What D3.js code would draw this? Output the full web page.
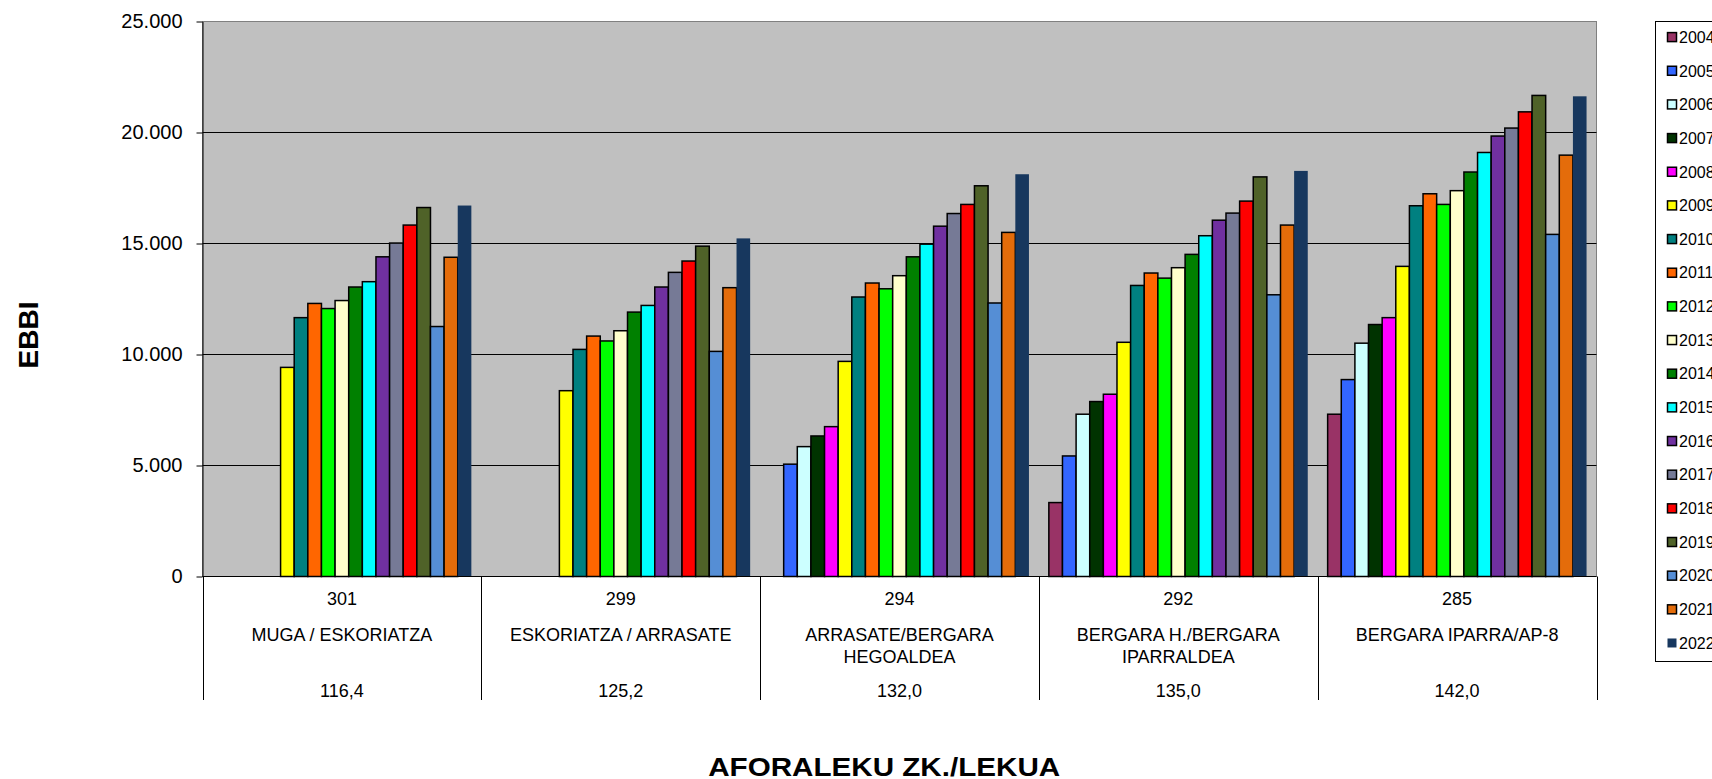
<!DOCTYPE html>
<html>
<head>
<meta charset="utf-8">
<script src="https://cdn.jsdelivr.net/npm/d3@7"></script>
<style>
  html, body { margin: 0; padding: 0; background: #ffffff; }
  svg { display: block; font-family: "Liberation Sans", Arial, sans-serif; }
</style>
</head>
<body>
<svg id="chart" width="1712" height="779"></svg>
<script>
// ---------------- DATA ----------------
const categories = ["301", "299", "294", "292", "285"];
const locations = [
  ["MUGA / ESKORIATZA"],
  ["ESKORIATZA / ARRASATE"],
  ["ARRASATE/BERGARA", "HEGOALDEA"],
  ["BERGARA H./BERGARA", "IPARRALDEA"],
  ["BERGARA IPARRA/AP-8"]
];
const kilometres = ["116,4", "125,2", "132,0", "135,0", "142,0"];
const years = ["2004","2005","2006","2007","2008","2009","2010","2011","2012","2013",
               "2014","2015","2016","2017","2018","2019","2020","2021","2022"];
// one row per year, one value per category (301, 299, 294, 292, 285)
const values = [
  [null,  null,  null,  3330,  7310],   // 2004
  [null,  null,  5060,  5430,  8870],   // 2005
  [null,  null,  5850,  7310, 10510],   // 2006
  [null,  null,  6330,  7880, 11350],   // 2007
  [null,  null,  6750,  8210, 11660],   // 2008
  [9420,  8370,  9690, 10550, 13970],   // 2009
  [11660, 10230, 12590, 13110, 16700],  // 2010
  [12300, 10830, 13220, 13670, 17240],  // 2011
  [12070, 10610, 12960, 13440, 16760],  // 2012
  [12430, 11070, 13550, 13910, 17380],  // 2013
  [13040, 11910, 14400, 14510, 18220],  // 2014
  [13280, 12210, 14970, 15350, 19100],  // 2015
  [14400, 13040, 15780, 16050, 19840],  // 2016
  [15020, 13700, 16350, 16370, 20200],  // 2017
  [15830, 14210, 16760, 16910, 20930],  // 2018
  [16620, 14880, 17600, 18000, 21670],  // 2019
  [11260, 10140, 12320, 12690, 15410],  // 2020
  [14380, 13010, 15500, 15830, 18980],  // 2021
  [16710, 15230, 18120, 18270, 21630]   // 2022
];
const colors = ["#993366","#3366FF","#CCFFFF","#003300","#FF00FF","#FFFF00","#008080","#FF6600",
                "#00FF00","#FFFFCC","#008000","#00FFFF","#7030A0","#767A96","#FF0000","#4F6228",
                "#558ED5","#E46C0A","#17375E"];
const yTicks = [0, 5000, 10000, 15000, 20000, 25000];
const yTitle = "EBBI";
const xTitle = "AFORALEKU ZK./LEKUA";

// ---------------- LAYOUT ----------------
const svg = d3.select("#chart");
const plot = { left: 202.5, right: 1596.5, top: 21.5, bottom: 576.5 };
const tableBottom = 700;

const y = d3.scaleLinear().domain([0, 25000]).range([plot.bottom, plot.top]);
const x0 = d3.scaleBand().domain(categories).range([plot.left, plot.right]).padding(0);
const x1 = d3.scaleBand().domain(years).range([0, x0.bandwidth()]).paddingInner(0).paddingOuter(0.73);
const color = d3.scaleOrdinal().domain(years).range(colors);

// plot background
svg.append("rect")
  .attr("x", plot.left).attr("y", plot.top)
  .attr("width", plot.right - plot.left).attr("height", plot.bottom - plot.top)
  .attr("fill", "#C0C0C0").attr("stroke", "#808080").attr("stroke-width", 1);

// gridlines
svg.append("g").selectAll("line")
  .data(yTicks.filter(d => d > 0 && d < 25000))
  .join("line")
  .attr("x1", plot.left).attr("x2", plot.right)
  .attr("y1", d => y(d)).attr("y2", d => y(d))
  .attr("stroke", "#000").attr("stroke-width", 1);

// bars
const groups = svg.append("g").selectAll("g")
  .data(categories)
  .join("g")
  .attr("transform", c => `translate(${x0(c)},0)`);

groups.selectAll("rect")
  .data((c, ci) => years.map((yr, yi) => ({ year: yr, value: values[yi][ci] })).filter(d => d.value != null))
  .join("rect")
  .attr("x", d => x1(d.year))
  .attr("y", d => y(d.value))
  .attr("width", x1.bandwidth())
  .attr("height", d => y(0) - y(d.value))
  .attr("fill", d => color(d.year))
  .attr("stroke", d => d.year === "2022" ? "none" : "#000")
  .attr("stroke-width", 1.5);

// y axis
const yAxis = d3.axisLeft(y)
  .tickValues(yTicks)
  .tickSizeInner(6).tickSizeOuter(0).tickPadding(14)
  .tickFormat(d => d3.format(",")(d).replace(/,/g, "."));
const gy = svg.append("g").attr("transform", `translate(${plot.left},0)`).call(yAxis);
gy.select(".domain").attr("stroke", "#000").attr("stroke-width", 1);
gy.selectAll(".tick line").attr("stroke", "#000");
gy.selectAll(".tick text")
  .attr("font-family", "Liberation Sans, Arial, sans-serif")
  .attr("font-size", 20).attr("fill", "#000");

// x axis line
svg.append("line")
  .attr("x1", plot.left).attr("x2", plot.right)
  .attr("y1", plot.bottom).attr("y2", plot.bottom)
  .attr("stroke", "#000").attr("stroke-width", 1);

// table separators
const bounds = categories.map(c => x0(c)).concat([plot.right]);
svg.append("g").selectAll("line")
  .data(bounds)
  .join("line")
  .attr("x1", d => Math.round(d) + 0.5).attr("x2", d => Math.round(d) + 0.5)
  .attr("y1", plot.bottom).attr("y2", tableBottom)
  .attr("stroke", "#000").attr("stroke-width", 1);

// table text
const tableText = svg.append("g")
  .attr("font-size", 18).attr("fill", "#000").attr("text-anchor", "middle");
categories.forEach((c, i) => {
  const cx = x0(c) + x0.bandwidth() / 2;
  tableText.append("text").attr("x", cx).attr("y", 604.5).text(c);
  locations[i].forEach((line, li) => {
    tableText.append("text").attr("x", cx).attr("y", 640.7 + li * 22).text(line);
  });
  tableText.append("text").attr("x", cx).attr("y", 696.7).text(kilometres[i]);
});

// axis titles
svg.append("text")
  .attr("transform", "translate(38.3,335) rotate(-90)")
  .attr("text-anchor", "middle")
  .attr("font-size", 28).attr("font-weight", "bold").attr("fill", "#000")
  .text(yTitle);

svg.append("text")
  .attr("x", 884.2).attr("y", 775.7)
  .attr("text-anchor", "middle")
  .attr("font-size", 26).attr("font-weight", "bold").attr("fill", "#000")
  .attr("textLength", 352).attr("lengthAdjust", "spacingAndGlyphs")
  .text(xTitle);

// legend
const legend = svg.append("g");
legend.append("rect")
  .attr("x", 1655.5).attr("y", 21.5).attr("width", 100).attr("height", 640)
  .attr("fill", "#fff").attr("stroke", "#000").attr("stroke-width", 1);
const item = legend.selectAll("g.item")
  .data(years)
  .join("g").attr("class", "item")
  .attr("transform", (d, i) => `translate(0,${37.1 + i * 33.66})`);
item.append("rect")
  .attr("x", 1667.5).attr("y", -4.5).attr("width", 9).attr("height", 9)
  .attr("fill", d => color(d))
  .attr("stroke", d => d === "2022" ? "none" : "#000").attr("stroke-width", 1.5);
item.append("text")
  .attr("x", 1679).attr("y", 0).attr("dy", "0.36em")
  .attr("font-size", 16).attr("fill", "#000")
  .text(d => d);
</script>
</body>
</html>
